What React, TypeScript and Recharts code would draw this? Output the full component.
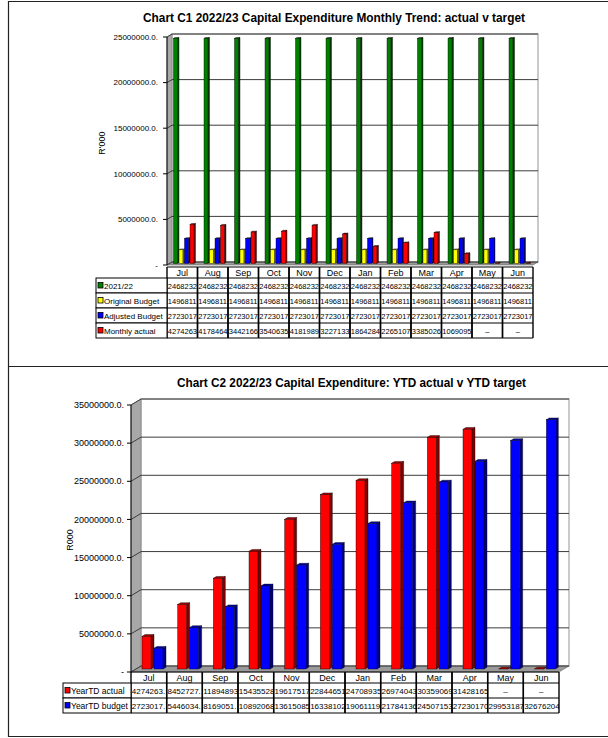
import React from 'react';
import { BarChart, Bar, XAxis, YAxis, CartesianGrid } from 'recharts';

const FONT = '"Liberation Sans", Arial, Helvetica, sans-serif';

const months = ['Jul', 'Aug', 'Sep', 'Oct', 'Nov', 'Dec', 'Jan', 'Feb', 'Mar', 'Apr', 'May', 'Jun'];

// Chart C1 (monthly)
const c1Prior2122 = [24682325, 24682325, 24682325, 24682325, 24682325, 24682325, 24682325, 24682325, 24682325, 24682325, 24682325, 24682325];
const c1OriginalBudget = [1496811, 1496811, 1496811, 1496811, 1496811, 1496811, 1496811, 1496811, 1496811, 1496811, 1496811, 1496811];
const c1AdjustedBudget = [2723017, 2723017, 2723017, 2723017, 2723017, 2723017, 2723017, 2723017, 2723017, 2723017, 2723017, 2723017];
const c1MonthlyActual = [4274263, 4178464, 3442166, 3540635, 4181989, 3227133, 1864284, 2265107, 3385026, 1069095, null, null];
const c1Ticks = [0, 5000000, 10000000, 15000000, 20000000, 25000000];

// Chart C2 (year to date)
const c2YtdActual = [4274263, 8452727, 11894893, 15435528, 19617517, 22844651, 24708935, 26974043, 30359069, 31428165, null, null];
const c2YtdBudget = [2723017, 5446034, 8169051, 10892068, 13615085, 16338102, 19061119, 21784136, 24507153, 27230170, 29953187, 32676204];
const c2Ticks = [0, 5000000, 10000000, 15000000, 20000000, 25000000, 30000000, 35000000];

type Series = { key: string; name: string; color: string; side: string; top: string; values: (number | null)[] };

const c1Series: Series[] = [
  { key: 'prior', name: '2021/22', color: '#008000', side: '#004000', top: '#005800', values: c1Prior2122 },
  { key: 'orig', name: 'Original Budget', color: '#ffff00', side: '#808000', top: '#a8a800', values: c1OriginalBudget },
  { key: 'adj', name: 'Adjusted Budget', color: '#0000ff', side: '#000080', top: '#0000a8', values: c1AdjustedBudget },
  { key: 'act', name: 'Monthly actual', color: '#ff0000', side: '#800000', top: '#a80000', values: c1MonthlyActual },
];

const c2Series: Series[] = [
  { key: 'ytdA', name: 'YearTD actual', color: '#ff0000', side: '#800000', top: '#a80000', values: c2YtdActual },
  { key: 'ytdB', name: 'YearTD budget', color: '#0000ff', side: '#000080', top: '#0000a8', values: c2YtdBudget },
];

type Cfg = {
  top: number;
  width: number;
  height: number;
  PL: number;
  PT: number;
  PR: number;
  PB: number;
  dx: number;
  dy: number;
  barSize: number;
  side: number;
  tickFont: number;
  tickMargin: number;
  legendLeft: number;
  legendTextX: number;
  headerGap: number;
  headerH: number;
  rowH: number;
  cellFont: number;
  headerFont: number;
  legendFont: number;
};

const c1Cfg: Cfg = {
  top: 0, width: 608, height: 345, PL: 167, PT: 37, PR: 533, PB: 265, dx: 5, dy: 3,
  barSize: 5.5, side: 1.6, tickFont: 8, tickMargin: 5, legendLeft: 96, legendTextX: 7, headerGap: 2,
  headerH: 11, rowH: 15, cellFont: 7.5, headerFont: 9, legendFont: 8,
};

const c2Cfg: Cfg = {
  top: 367, width: 608, height: 360, PL: 131, PT: 38, PR: 559, PB: 305, dx: 10, dy: 6,
  barSize: 12, side: 3, tickFont: 9, tickMargin: 3, legendLeft: 63, legendTextX: 7, headerGap: 0,
  headerH: 11, rowH: 15, cellFont: 8, headerFont: 9, legendFont: 8.5,
};

const fmtTick = (v: number) => (v === 0 ? '-' : v.toFixed(1) + '.');
const fmtCell = (v: number | null) => (v == null ? '–' : v.toFixed(1));

// keep only the characters that fit in the cell (the reference cuts long numbers at the cell edge)
function fitText(s: string, fontSize: number, maxW: number) {
  let w = 0;
  let out = '';
  for (const ch of s) {
    const cw = (ch === '.' ? 0.278 : 0.556) * fontSize;
    if (w + cw > maxW) break;
    w += cw;
    out += ch;
  }
  return out;
}

function buildData(series: Series[]) {
  return months.map((m, i) => {
    const row: any = { month: m };
    series.forEach((s) => {
      row[s.key] = s.values[i];
    });
    return row;
  });
}

function Chart3D({ cfg, series, ticks }: { cfg: Cfg; series: Series[]; ticks: number[] }) {
  const { width, height, PL, PT, PR, PB, dx, dy } = cfg;
  const data = buildData(series);

  const makeShape = (s: Series) => (p: any) => {
    const { x, y, width: w, height: h } = p;
    if (x == null || isNaN(x) || y == null || isNaN(y)) return <g />;
    const side = cfg.side;
    const fx = x + dx / 2;
    const fy = y - dy / 2;
    const fw = w - side;
    const hh = Math.max(h || 0, 0);
    const td = side * (dy / dx);
    return (
      <g>
        <polygon
          points={`${fx + fw},${fy} ${fx + fw + side},${fy - td} ${fx + fw + side},${fy + hh - td} ${fx + fw},${fy + hh}`}
          fill={s.side}
          stroke="#000"
          strokeWidth={0.4}
        />
        <polygon
          points={`${fx},${fy} ${fx + side},${fy - td} ${fx + fw + side},${fy - td} ${fx + fw},${fy}`}
          fill={s.top}
          stroke="#000"
          strokeWidth={0.4}
        />
        <rect x={fx} y={fy} width={fw} height={hh} fill={s.color} stroke="#000" strokeWidth={0.4} />
      </g>
    );
  };

  const wallGrid = (p: any) => {
    if (p.index !== 0) return <g />;
    return (
      <g>
        <rect x={PL + dx} y={PT - dy} width={PR - PL} height={PB - PT} fill="#fff" stroke="#b8b8b8" strokeWidth={1.5} />
        <polygon
          points={`${PL},${PT} ${PL + dx},${PT - dy} ${PL + dx},${PB - dy} ${PL},${PB}`}
          fill="#a8a8a8"
          stroke="#7a7a7a"
          strokeWidth={0.6}
        />
        <polygon
          points={`${PL},${PB} ${PL + dx},${PB - dy} ${PR + dx},${PB - dy} ${PR},${PB}`}
          fill="#9a9a9a"
          stroke="#666"
          strokeWidth={0.6}
        />
      </g>
    );
  };

  const lineGrid = (p: any) => {
    const { x1, y1, x2 } = p;
    if (y1 == null || isNaN(y1)) return <g />;
    return (
      <polyline
        points={`${x1},${y1} ${x1 + dx},${y1 - dy} ${x2 + dx},${y1 - dy}`}
        fill="none"
        stroke="#3c3c3c"
        strokeWidth={1}
      />
    );
  };

  const tableTick = (p: any) => {
    const value = p.payload?.value;
    const i = months.indexOf(value);
    const bw = p.payload && p.payload.offset ? p.payload.offset * 2 : (PR - PL) / months.length;
    const left = p.x - bw / 2;
    const top = p.y + cfg.headerGap;
    const rowsTop = top + cfg.headerH;
    const bottom = rowsTop + cfg.rowH * series.length;
    const els: React.ReactNode[] = [];
    els.push(
      <text key="h" x={p.x} y={top + 9} textAnchor="middle" fontSize={cfg.headerFont} fontFamily={FONT} fill="#000">
        {value}
      </text>
    );
    series.forEach((s, k) => {
      const ry = rowsTop + k * cfg.rowH;
      const v = s.values[i];
      const txt = v == null ? fmtCell(v) : fitText(fmtCell(v), cfg.cellFont, bw + 1.5);
      els.push(
        <svg key={'c' + k} x={left} y={ry} width={bw} height={cfg.rowH} overflow="hidden">
          <text
            x={v == null ? bw / 2 : 0.8}
            y={cfg.rowH - 4}
            textAnchor={v == null ? 'middle' : 'start'}
            fontSize={cfg.cellFont}
            fontFamily={FONT}
            fill="#000"
          >
            {txt}
          </text>
        </svg>
      );
      els.push(<line key={'l' + k} x1={left} x2={left + bw} y1={ry} y2={ry} stroke="#000" strokeWidth={1} />);
    });
    els.push(<line key="top" x1={left} x2={left + bw} y1={top} y2={top} stroke="#000" strokeWidth={1} />);
    els.push(<line key="bot" x1={left} x2={left + bw} y1={bottom} y2={bottom} stroke="#000" strokeWidth={1} />);
    els.push(<line key="vl" x1={left} x2={left} y1={top} y2={bottom} stroke="#000" strokeWidth={1.4} />);
    els.push(<line key="vr" x1={left + bw} x2={left + bw} y1={top} y2={bottom} stroke="#000" strokeWidth={1.4} />);
    if (i === 0) {
      const lx = cfg.legendLeft;
      series.forEach((s, k) => {
        const ry = rowsTop + k * cfg.rowH;
        els.push(
          <rect key={'lg' + k} x={lx} y={ry} width={left - lx} height={cfg.rowH} fill="#fff" stroke="#000" strokeWidth={1} />
        );
        els.push(
          <rect key={'sq' + k} x={lx + 2} y={ry + cfg.rowH / 2 - 3} width={5} height={5.5} fill={s.color} stroke="#000" strokeWidth={0.8} />
        );
        els.push(
          <text key={'lt' + k} x={lx + cfg.legendTextX + 1} y={ry + cfg.rowH - 4} fontSize={cfg.legendFont} fontFamily={FONT} fill="#000">
            {s.name}
          </text>
        );
      });
    }
    return <g>{els}</g>;
  };

  return (
    <div style={{ position: 'absolute', left: 0, top: cfg.top, width, height }}>
      <BarChart
        width={width}
        height={height}
        data={data}
        margin={{ top: PT, right: width - PR, bottom: 0, left: 0 }}
        barGap={0}
      >
        <CartesianGrid horizontal={wallGrid as any} vertical={false} stroke="none" />
        <CartesianGrid horizontal={lineGrid as any} vertical={false} />
        <XAxis
          dataKey="month"
          type="category"
          height={height - PB}
          interval={0}
          tickLine={false}
          axisLine={false}
          tickSize={0}
          tickMargin={0}
          tick={tableTick as any}
        />
        <YAxis
          type="number"
          width={PL}
          domain={[0, ticks[ticks.length - 1]]}
          ticks={ticks}
          interval={0}
          allowDataOverflow
          axisLine={{ stroke: '#000' }}
          tickLine={{ stroke: '#000' }}
          tickSize={4}
          tickMargin={cfg.tickMargin}
          tickFormatter={fmtTick}
          tick={{ fontSize: cfg.tickFont, fill: '#000', fontFamily: FONT }}
        />
        {series.map((s) => (
          <Bar
            key={s.key}
            dataKey={(d: any) => (d[s.key] == null ? 0 : d[s.key])}
            name={s.name}
            fill={s.color}
            barSize={cfg.barSize}
            isAnimationActive={false}
            shape={makeShape(s) as any}
          />
        ))}
      </BarChart>
    </div>
  );
}

export default function App() {
  return (
    <div style={{ position: 'absolute', left: 0, top: 0, width: 608, height: 738, background: '#fff', fontFamily: FONT }}>
      <Chart3D cfg={c1Cfg} series={c1Series} ticks={c1Ticks} />
      <Chart3D cfg={c2Cfg} series={c2Series} ticks={c2Ticks} />
      <svg width={608} height={738} style={{ position: 'absolute', left: 0, top: 0, pointerEvents: 'none' }}>
        <line x1={8.5} x2={8.5} y1={1} y2={737} stroke="#222" strokeWidth={1.2} />
        <line x1={8} x2={608} y1={1.5} y2={1.5} stroke="#222" strokeWidth={1.2} />
        <line x1={8} x2={608} y1={366.5} y2={366.5} stroke="#222" strokeWidth={1.2} />
        <line x1={8} x2={608} y1={736.5} y2={736.5} stroke="#222" strokeWidth={1.2} />
        <text x={143} y={22} fontSize={13} fontWeight="bold" fontFamily={FONT} textLength={382} lengthAdjust="spacingAndGlyphs" fill="#000">
          Chart C1 2022/23 Capital Expenditure Monthly Trend: actual v target
        </text>
        <text x={177} y={387} fontSize={13} fontWeight="bold" fontFamily={FONT} textLength={349} lengthAdjust="spacingAndGlyphs" fill="#000">
          Chart C2 2022/23 Capital Expenditure: YTD actual v YTD target
        </text>
        <text x={105} y={143} transform="rotate(-90 105 143)" textAnchor="middle" fontSize={9} fontFamily={FONT} fill="#000">
          R'000
        </text>
        <text x={73} y={540} transform="rotate(-90 73 540)" textAnchor="middle" fontSize={9} fontFamily={FONT} fill="#000">
          R000
        </text>
      </svg>
    </div>
  );
}
